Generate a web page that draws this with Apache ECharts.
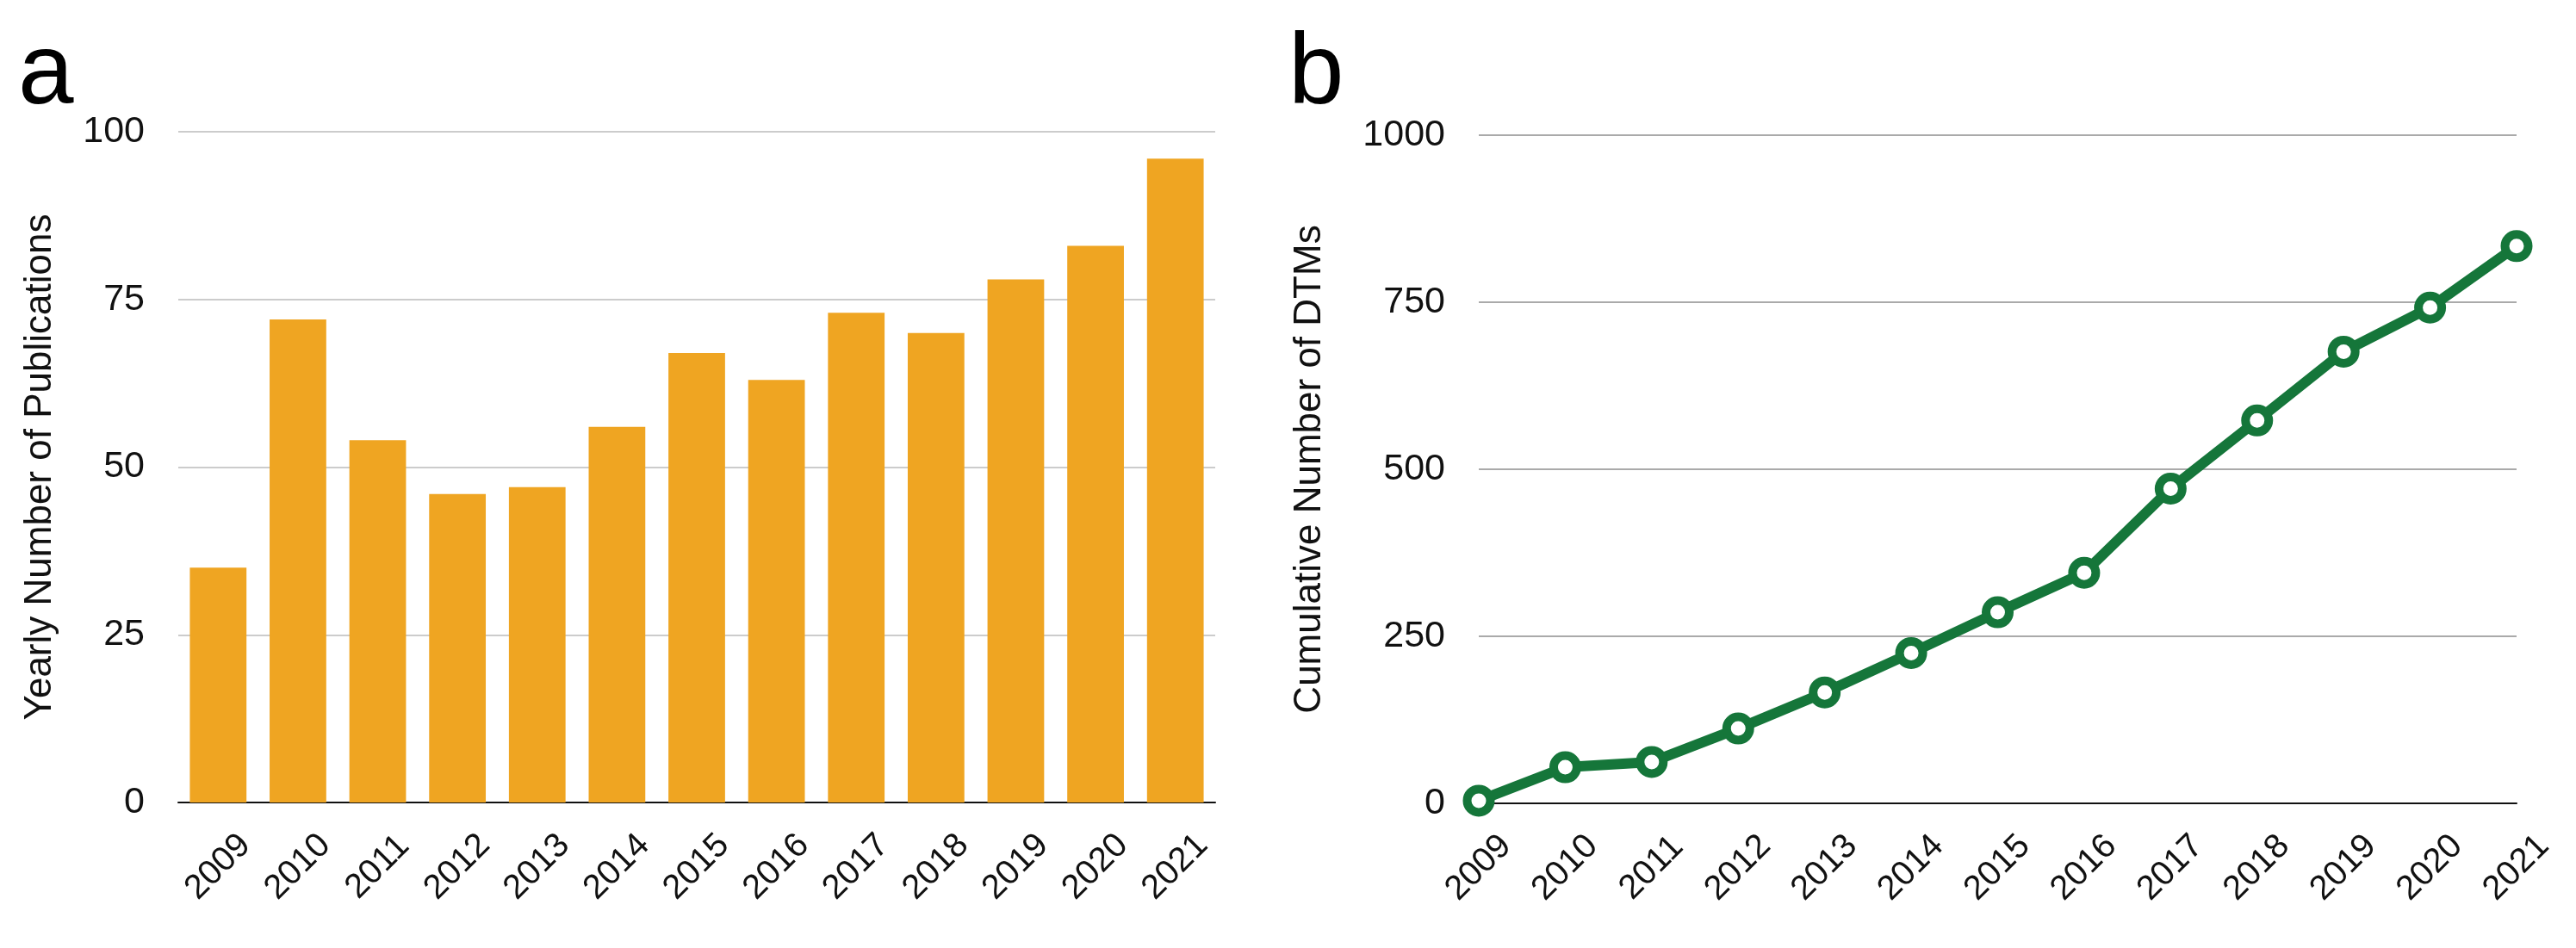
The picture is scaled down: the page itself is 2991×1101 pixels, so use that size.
<!DOCTYPE html>
<html>
<head>
<meta charset="utf-8">
<script src="https://cdn.jsdelivr.net/npm/echarts@6/dist/echarts.min.js"></script>
<style>
html,body{margin:0;padding:0;background:#fff;}
#c{width:2991px;height:1101px;}
</style>
</head>
<body>
<div id="c"></div>
<script>
const years = ['2009','2010','2011','2012','2013','2014','2015','2016','2017','2018','2019','2020','2021'];
const yearlyPublications = [35,72,54,46,47,56,67,63,73,70,78,83,96];
const cumulativeDTMs = [4,54,62,112,166,225,286,345,471,573,676,742,834];
const ticksA = [0,25,50,75,100];
const ticksB = [0,250,500,750,1000];

const FONT = '"Liberation Sans", Arial, Helvetica, sans-serif';
const chart = echarts.init(document.getElementById('c'), null, {renderer:'canvas'});

function xAxisCfg(gridIndex, boundaryGap){
  return {
    type:'category', gridIndex, data: years, boundaryGap,
    axisLine:{show:true, lineStyle:{color:'#111', width:2}},
    axisTick:{show:false},
    axisLabel:{rotate:45, align:'center', verticalAlign:'middle', margin:75,
      fontSize:40, color:'#111', fontFamily:FONT, interval:0},
    splitLine:{show:false}
  };
}
function yAxisCfg(gridIndex, max, interval, name, gap, gridColor){
  return {
    type:'value', gridIndex, min:0, max, interval, name,
    nameLocation:'middle', nameGap:gap, nameRotate:90,
    nameTextStyle:{fontSize:44, color:'#111', fontFamily:FONT, verticalAlign:'middle'},
    axisLine:{show:false}, axisTick:{show:false},
    axisLabel:{fontSize:43, color:'#111', fontFamily:FONT, margin:39,
      formatter: v => String(v)},
    splitLine:{show:true, lineStyle:{color:gridColor, width:2}}
  };
}

chart.setOption({
  animation:false,
  backgroundColor:'#fff',
  grid:[
    {left:207, right:2991-1411, top:153, bottom:1101-932, containLabel:false},
    {left:1717, right:2991-2922, top:157, bottom:1101-933, containLabel:false}
  ],
  xAxis:[ xAxisCfg(0, true), xAxisCfg(1, false) ],
  yAxis:[
    yAxisCfg(0, ticksA[ticksA.length-1], ticksA[1]-ticksA[0], 'Yearly Number of Publications', 160, '#cccccc'),
    yAxisCfg(1, ticksB[ticksB.length-1], ticksB[1]-ticksB[0], 'Cumulative Number of DTMs', 196, '#aaaaaa')
  ],
  graphic:[
    {type:'text', left:21, top:30, style:{text:'a', fontSize:116, fontFamily:FONT, fill:'#000'}},
    {type:'text', left:1496, top:30, style:{text:'b', fontSize:116, fontFamily:FONT, fill:'#000'}}
  ],
  series:[
    {type:'bar', xAxisIndex:0, yAxisIndex:0, data:yearlyPublications,
     barCategoryGap:'29%', itemStyle:{color:'#EFA522'}},
    {type:'line', xAxisIndex:1, yAxisIndex:1, data:cumulativeDTMs,
     symbol:'circle', symbolSize:27, showAllSymbol:true,
     lineStyle:{color:'#15763A', width:12},
     itemStyle:{color:'#ffffff', borderColor:'#15763A', borderWidth:10}}
  ]
});
</script>
</body>
</html>
